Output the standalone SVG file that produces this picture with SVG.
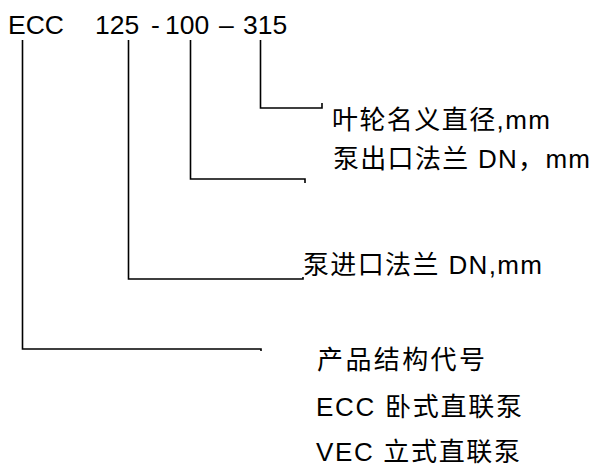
<svg xmlns="http://www.w3.org/2000/svg" width="595" height="466" viewBox="0 0 595 466">
<style>
text{font-family:"Liberation Sans","Noto Sans CJK SC",sans-serif;font-size:26px;fill:#000}
.t{font-size:26.5px}
.c{fill:none;stroke:#000;stroke-width:1.6}
</style>
<rect width="595" height="466" fill="#fff"/>
<g id="code">
<text class="t" y="34"><tspan x="8">ECC</tspan><tspan x="95">125</tspan><tspan x="151">-</tspan><tspan x="165">100</tspan><tspan x="219">–</tspan><tspan x="243">315</tspan></text>
</g>
<g id="connectors">
<path class="c" d="M22.5,40 V349 H261 v2"/>
<path class="c" d="M128.5,40 V279 H303 v-2"/>
<path class="c" d="M190.5,40 V179 H305 v4"/>
<path class="c" d="M260.5,40 V108 H322 v-5"/>
</g>
<g id="impeller"><text x="332" y="129" textLength="218" lengthAdjust="spacing">叶轮名义直径,mm</text></g>
<g id="outlet"><text x="333" y="168" textLength="257" lengthAdjust="spacing">泵出口法兰 DN，mm</text></g>
<g id="inlet"><text x="303" y="274" textLength="239" lengthAdjust="spacing">泵进口法兰 DN,mm</text></g>
<g id="structure">
<text x="317" y="369" textLength="168" lengthAdjust="spacing">产品结构代号</text>
<text x="316" y="416" textLength="206" lengthAdjust="spacing">ECC 卧式直联泵</text>
<text x="316" y="461" textLength="204" lengthAdjust="spacing">VEC 立式直联泵</text>
</g>
</svg>
